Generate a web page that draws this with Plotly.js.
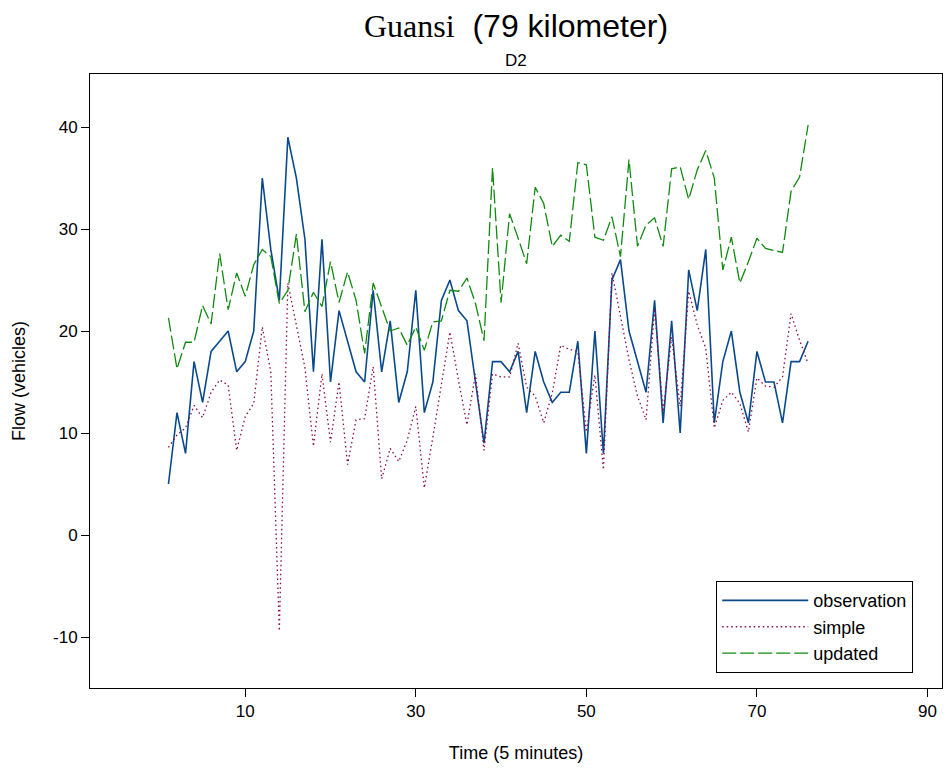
<!DOCTYPE html>
<html>
<head>
<meta charset="utf-8">
<script src="https://cdn.plot.ly/plotly-3.0.1.min.js"></script>
<style>html,body{margin:0;padding:0;background:#fff;}#chart{width:946px;height:769px;}</style>
</head>
<body>
<div id="chart"></div>
<script>
const time = Array.from({length: 76}, (_, i) => i + 1);
const observation = [5,12,8,17,13,18,19,20,16,17,20,35,28,23,39,35,29,16,29,15,22,19,16,15,24,16,21,13,16,24,12,15,23,25,22,21,15,9,17,17,16,18,12,18,15,13,14,14,19,8,20,8,25,27,20,17,14,23,11,21,10,26,22,28,11,17,20,14,11,18,15,15,11,17,17,19];
const simple = [8.6,9.8,10.5,12.7,11.5,14,15.2,14.7,8.3,11.6,12.9,20.4,16,-9.4,24.7,20.4,16.4,8.7,15.8,9.1,15,6.9,11.3,11.4,16.5,5.5,8.5,7.2,9.3,12.6,4.6,9.6,14.9,19.9,15.2,10.8,15.8,8.3,15.8,15.5,15.5,18.8,14.5,13.6,11,13.9,18.6,18.2,18,10.1,15.7,6.4,25.7,21.4,17.2,13.6,11.3,22.2,12.1,19.4,12.6,23.9,20.6,18.3,10.5,13.2,14,12.9,10.1,15.4,14.6,14.5,15.5,21.7,19.1,16.8];
const updated = [21.3,16.3,18.9,18.9,22.5,20.7,27.6,22.1,25.7,23.4,26.5,28,27.3,22.7,24,29.5,21.9,23.8,22.4,26.8,22.8,25.8,23,17.8,24.7,22.4,20,20.3,18.6,20.4,18.1,20.9,21,24,23.9,25.2,22.7,19.05,36,22.8,31.5,29.1,26.6,34.1,32.5,28.3,29.4,28.8,36.5,36.3,29.2,28.9,31.2,27.3,36.8,28.3,30.4,31.1,28.3,35.9,36.1,32.9,35.8,37.7,35,26,29.2,24.7,26.8,29.1,28.1,27.9,27.7,33.7,35.1,40.2];
const xTicks = [10, 30, 50, 70, 90];
const yTicks = [-10, 0, 10, 20, 30, 40];
const seriesNames = ['observation', 'simple', 'updated'];

const traces = [
  {x: time, y: observation, name: seriesNames[0], type: 'scatter', mode: 'lines',
   line: {color: '#0a4a8c', width: 1.6}},
  {x: time, y: simple, name: seriesNames[1], type: 'scatter', mode: 'lines',
   line: {color: '#8a0a48', width: 1.3, dash: '1.5px,3px'}},
  {x: time, y: updated, name: seriesNames[2], type: 'scatter', mode: 'lines',
   line: {color: '#108a10', width: 1.3, dash: '14px,4px'}}
];

const sans = 'Liberation Sans, Arial, sans-serif';
const layout = {
  width: 946, height: 769,
  paper_bgcolor: '#fff', plot_bgcolor: '#fff',
  margin: {l: 90, r: 4, t: 74, b: 81},
  showlegend: true,
  font: {family: sans, color: '#000', size: 17},
  xaxis: {
    range: [-8.2, 91.7], tickvals: xTicks, ticktext: xTicks.map(String),
    ticks: 'outside', ticklen: 8, tickcolor: '#000', showgrid: false, zeroline: false,
    showline: true, linecolor: '#000', linewidth: 1, mirror: true,
    tickfont: {family: sans, size: 17},
    title: {text: 'Time (5 minutes)', font: {family: sans, size: 18}, standoff: 25}
  },
  yaxis: {
    range: [-15, 45.2], tickvals: yTicks, ticktext: yTicks.map(String),
    ticks: 'outside', ticklen: 8, tickcolor: '#000', showgrid: false, zeroline: false,
    showline: true, linecolor: '#000', linewidth: 1, mirror: true,
    tickfont: {family: sans, size: 17},
    title: {text: 'Flow (vehicles)', font: {family: sans, size: 18}, standoff: 22}
  },
  legend: {
    x: 0.735, y: 0.174, xanchor: 'left', yanchor: 'top',
    bgcolor: '#fff', bordercolor: '#000', borderwidth: 1,
    font: {family: sans, size: 18}, tracegroupgap: 0, itemwidth: 86
  },
  annotations: [
    {xref: 'paper', yref: 'paper', x: 0.5, y: 1, xanchor: 'center', yanchor: 'bottom', yshift: 28,
     showarrow: false,
     text: '<span style="font-family:Liberation Serif">Guansi</span>  (79 kilometer)',
     font: {family: 'Liberation Sans Narrow, Liberation Sans, sans-serif', size: 32}},
    {xref: 'paper', yref: 'paper', x: 0.5, y: 1, xanchor: 'center', yanchor: 'bottom', yshift: 2,
     showarrow: false, text: 'D2',
     font: {family: 'Liberation Sans Narrow, Liberation Sans, sans-serif', size: 17}}
  ]
};

Plotly.newPlot('chart', traces, layout, {displayModeBar: false, staticPlot: true});
</script>
</body>
</html>
